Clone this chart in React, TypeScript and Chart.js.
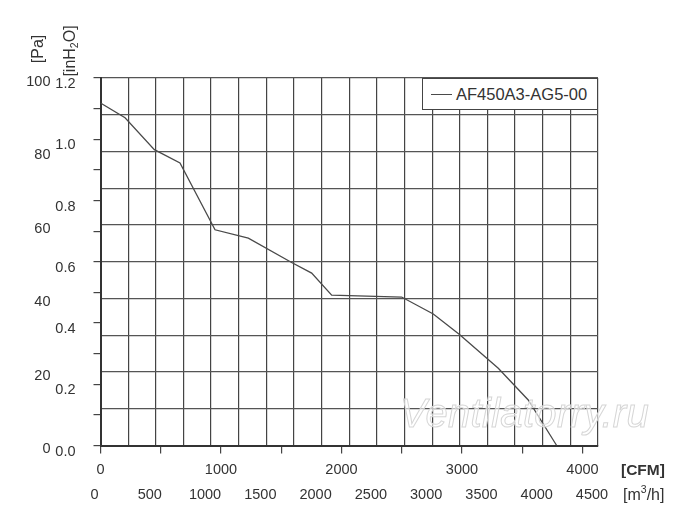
import React, { useEffect, useRef } from 'react';
import { Chart, registerables } from 'chart.js';

Chart.register(...registerables);

// fan curve: airflow (m3/h) and static pressure (Pa)
const airflowM3h = [0, 222, 487, 719, 1036, 1337, 1729, 1910, 2091, 2724, 3010, 3247, 3598, 3869, 4126];
const pressurePa = [93.2, 89.2, 80.5, 76.9, 58.7, 56.4, 49.8, 46.9, 40.9, 40.4, 35.8, 30.2, 21.0, 12.4, 0];

const seriesName = 'AF450A3-AG5-00';

// axis ticks
const m3hTicks = [0, 250, 500, 750, 1000, 1250, 1500, 1750, 2000, 2250, 2500, 2750, 3000, 3250, 3500, 3750, 4000, 4250, 4500];
const m3hLabels = [0, 500, 1000, 1500, 2000, 2500, 3000, 3500, 4000, 4500];
const cfmTicks = [0, 500, 1000, 1500, 2000, 2500, 3000, 3500, 4000];
const cfmLabels = [0, 1000, 2000, 3000, 4000];
const paTicks = [0, 10, 20, 30, 40, 50, 60, 70, 80, 90, 100];
const paLabels = [0, 20, 40, 60, 80, 100];
const inH2OTicks = [0, 0.1, 0.2, 0.3, 0.4, 0.5, 0.6, 0.7, 0.8, 0.9, 1.0, 1.1, 1.2];
const inH2OLabels = ['0.0', '0.2', '0.4', '0.6', '0.8', '1.0', '1.2'];

const FONT = "'Liberation Sans', Arial, Helvetica, sans-serif";

const setTicks = (values: number[]) => (scale: any) => {
  scale.ticks = values.map((v) => ({ value: v }));
};

const App: React.FC = () => {
  const chartRef = useRef<HTMLCanvasElement | null>(null);

  useEffect(() => {
    if (!chartRef.current) return;
    const tickFont = { family: FONT, size: 14.5 };

    const chart = new Chart(chartRef.current, {
      type: 'line',
      data: {
        datasets: [
          {
            label: seriesName,
            data: airflowM3h.map((x, i) => ({ x, y: pressurePa[i] })),
            borderColor: '#4a4a4a',
            borderWidth: 1.3,
            pointRadius: 0,
            tension: 0,
            xAxisID: 'm3h',
            yAxisID: 'pa',
          },
        ],
      },
      options: {
        animation: false,
        responsive: false,
        maintainAspectRatio: false,
        layout: { padding: { top: 78, right: 102, left: 0, bottom: 0 } },
        plugins: { legend: { display: false }, tooltip: { enabled: false } },
        scales: {
          cfm: {
            type: 'linear',
            position: 'bottom',
            weight: 0,
            min: 0,
            max: 4129,
            afterBuildTicks: setTicks(cfmTicks),
            afterFit: (s: any) => { s.height = 33; },
            grid: { drawOnChartArea: false, drawTicks: true, tickLength: 8, color: '#444', lineWidth: 1.2 },
            border: { display: true, color: '#333', width: 2 },
            ticks: {
              autoSkip: false,
              maxRotation: 0,
              padding: 7.8,
              color: '#333',
              font: tickFont,
              callback: (v: any) => (cfmLabels.includes(Number(v)) ? String(v) : ''),
            },
          },
          m3h: {
            type: 'linear',
            position: 'bottom',
            weight: 1,
            min: 0,
            max: 4500,
            afterBuildTicks: setTicks(m3hTicks),
            afterFit: (s: any) => { s.height = 52.5; },
            grid: { drawOnChartArea: true, drawTicks: false, color: '#444', lineWidth: 1.2 },
            border: { display: false },
            ticks: {
              autoSkip: false,
              maxRotation: 0,
              padding: 7.8,
              labelOffset: -6,
              color: '#333',
              font: tickFont,
              callback: (v: any) => (m3hLabels.includes(Number(v)) ? String(v) : ''),
            },
          },
          inh2o: {
            type: 'linear',
            position: 'left',
            weight: 0,
            min: 0,
            max: 1.2,
            afterBuildTicks: setTicks(inH2OTicks),
            afterFit: (s: any) => { s.width = 49.5; },
            grid: { drawOnChartArea: false, drawTicks: true, tickLength: 7, color: '#444', lineWidth: 1.2 },
            border: { display: true, color: '#333', width: 2 },
            ticks: {
              autoSkip: false,
              padding: 18,
              labelOffset: 6,
              color: '#333',
              font: tickFont,
              callback: (v: any) => {
                const t = Number(v).toFixed(1);
                return inH2OLabels.includes(t) ? t : '';
              },
            },
          },
          pa: {
            type: 'linear',
            position: 'left',
            weight: 1,
            min: 0,
            max: 100,
            afterBuildTicks: setTicks(paTicks),
            afterFit: (s: any) => { s.width = 51; },
            grid: { drawOnChartArea: true, drawTicks: false, color: '#555', lineWidth: 1.2 },
            border: { display: false },
            ticks: {
              autoSkip: false,
              padding: 0.5,
              labelOffset: 3.5,
              color: '#333',
              font: tickFont,
              callback: (v: any) => (paLabels.includes(Number(v)) ? String(v) : ''),
            },
          },
        },
      },
    } as any);

    return () => {
      chart.destroy();
    };
  }, []);

  const textBase: React.CSSProperties = {
    position: 'absolute',
    fontFamily: FONT,
    fontSize: 16,
    lineHeight: 1,
    color: '#333',
    whiteSpace: 'nowrap',
  };

  return (
    <div style={{ position: 'absolute', left: 0, top: 0, width: 700, height: 531, background: '#fff', overflow: 'hidden' }}>
      <canvas ref={chartRef} width={700} height={531} style={{ width: 700, height: 531, display: 'block' }} />

      {/* y axis titles */}
      <div style={{ ...textBase, left: 38, top: 49, transform: 'translate(-50%, -50%) rotate(-90deg)' }}>[Pa]</div>
      <div style={{ ...textBase, left: 71, top: 51, transform: 'translate(-50%, -50%) rotate(-90deg)' }}>
        [inH<sub style={{ fontSize: 10.5, verticalAlign: -3 }}>2</sub>O]
      </div>

      {/* x axis titles */}
      <div style={{ ...textBase, left: 621, top: 462, fontSize: 15.5, fontWeight: 'bold' }}>[CFM]</div>
      <div style={{ ...textBase, left: 623, top: 484 }}>
        [m<sup style={{ fontSize: 10.5, verticalAlign: 7 }}>3</sup>/h]
      </div>

      {/* legend */}
      <div
        style={{
          position: 'absolute',
          left: 421.5,
          top: 78,
          width: 176.5,
          height: 32,
          boxSizing: 'border-box',
          border: '1px solid #444',
          background: '#fff',
        }}
      >
        <div style={{ position: 'absolute', left: 8.5, top: 14.5, width: 21, height: 0, borderTop: '1.3px solid #4a4a4a' }} />
        <div style={{ position: 'absolute', left: 33.5, top: 7, fontFamily: FONT, fontSize: 16.5, lineHeight: 1, color: '#333', whiteSpace: 'nowrap' }}>
          {seriesName}
        </div>
      </div>

      {/* watermark */}
      <div
        style={{
          position: 'absolute',
          left: 400,
          top: 393,
          fontFamily: FONT,
          fontStyle: 'italic',
          fontSize: 40,
          letterSpacing: 0.3,
          lineHeight: 1,
          color: 'rgba(255,255,255,0.6)',
          WebkitTextStroke: '1px #d6d6d6',
          whiteSpace: 'nowrap',
          pointerEvents: 'none',
        }}
      >
        Ventilatorry.ru
      </div>
    </div>
  );
};

export default App;
